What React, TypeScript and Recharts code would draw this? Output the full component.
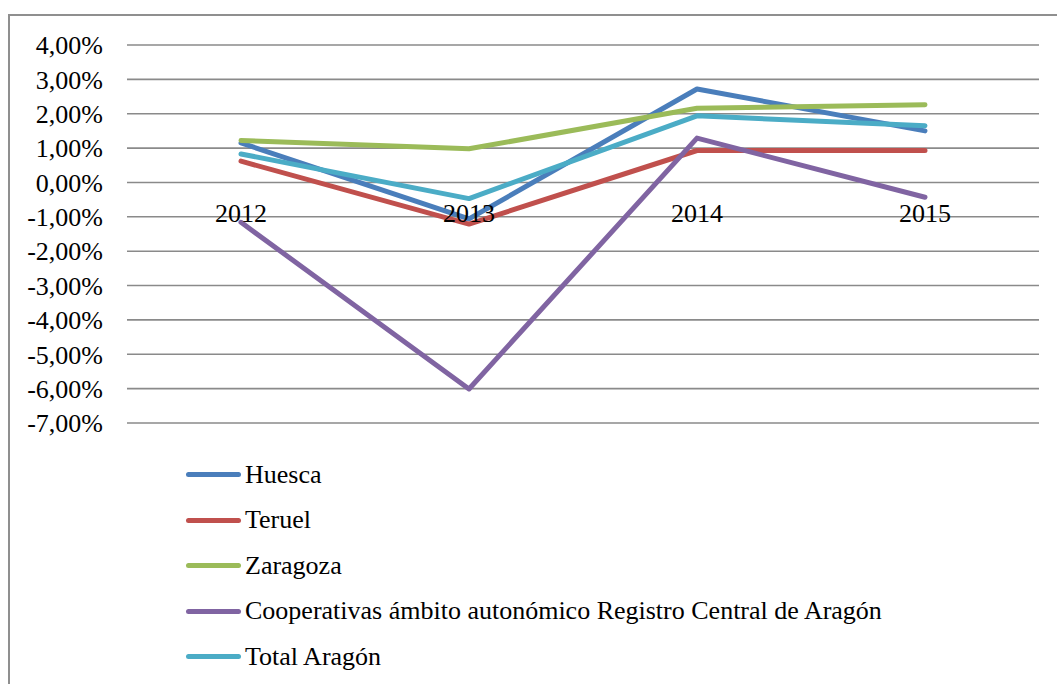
import { CartesianGrid, Legend, Line, LineChart, ReferenceDot, XAxis, YAxis } from 'recharts'

const years = ['2012', '2013', '2014', '2015']
const huesca = [1.15, -1.06, 2.72, 1.5]
const teruel = [0.62, -1.21, 0.93, 0.93]
const zaragoza = [1.22, 0.98, 2.16, 2.26]
const cooperativas = [-1.16, -6.01, 1.29, -0.43]
const totalAragon = [0.83, -0.47, 1.94, 1.65]
const yTicks = [4, 3, 2, 1, 0, -1, -2, -3, -4, -5, -6, -7]

const SERIES = [
  { key: 'huesca', name: 'Huesca', color: '#4a7ebb' },
  { key: 'teruel', name: 'Teruel', color: '#c0504d' },
  { key: 'zaragoza', name: 'Zaragoza', color: '#9bbb59' },
  { key: 'cooperativas', name: 'Cooperativas ámbito autonómico Registro Central de Aragón', color: '#8064a2' },
  { key: 'totalAragon', name: 'Total Aragón', color: '#4bacc6' },
]

const data = years.map((year, i) => ({
  year,
  huesca: huesca[i],
  teruel: teruel[i],
  zaragoza: zaragoza[i],
  cooperativas: cooperativas[i],
  totalAragon: totalAragon[i],
}))

const FONT = "'Liberation Serif', 'Times New Roman', serif"
const FONT_SIZE = 26

const formatPct = (v: number) => v.toFixed(2).replace('.', ',') + '%'

function LegendList() {
  return (
    <div style={{ fontFamily: FONT, fontSize: FONT_SIZE, color: '#000', whiteSpace: 'nowrap' }}>
      {SERIES.map((s) => (
        <div key={s.key} style={{ display: 'flex', alignItems: 'center', height: 45.5 }}>
          <span
            style={{
              display: 'inline-block',
              width: 55,
              height: 5,
              borderRadius: 3,
              background: s.color,
              marginRight: 4,
            }}
          />
          <span>{s.name}</span>
        </div>
      ))}
    </div>
  )
}

export default function App() {
  return (
    <div
      style={{
        position: 'absolute',
        left: 0,
        top: 0,
        width: 1057,
        height: 684,
        overflow: 'hidden',
        background: '#fff',
        fontFamily: FONT,
      }}
    >
      <div
        style={{
          position: 'absolute',
          left: 8,
          top: 14,
          width: 1100,
          height: 800,
          borderTop: '2px solid #8f8f8f',
          borderLeft: '2px solid #8f8f8f',
        }}
      />
      <div style={{ position: 'absolute', left: 0, top: 0 }}>
        <LineChart
          width={1057}
          height={684}
          data={data}
          margin={{ top: 45, right: 18, left: 17, bottom: 261 }}
        >
          <CartesianGrid vertical={false} stroke="#8a8a8a" strokeWidth={1.6} />
          <XAxis dataKey="year" hide padding={{ left: 114, right: 114 }} />
          <YAxis
            width={110}
            domain={[-7, 4]}
            ticks={yTicks}
            interval={0}
            axisLine={false}
            tickLine={false}
            tickSize={0}
            tickMargin={24}
            tickFormatter={formatPct}
            tick={{ fill: '#000', fontSize: FONT_SIZE, fontFamily: FONT }}
          />
          {SERIES.map((s) => (
            <Line
              key={s.key}
              type="linear"
              dataKey={s.key}
              name={s.name}
              stroke={s.color}
              strokeWidth={5}
              strokeLinecap="round"
              strokeLinejoin="round"
              dot={false}
              activeDot={false}
              isAnimationActive={false}
            />
          ))}
          {years.map((year) => (
            <ReferenceDot
              key={year}
              x={year}
              y={0}
              r={0}
              fill="none"
              stroke="none"
              label={{
                value: year,
                position: 'bottom',
                offset: 21,
                fill: '#000',
                fontSize: FONT_SIZE,
                fontFamily: FONT,
              }}
            />
          ))}
          <Legend
            layout="vertical"
            align="center"
            verticalAlign="middle"
            content={() => <LegendList />}
            wrapperStyle={{ top: 452, left: 186, width: 860 }}
          />
        </LineChart>
      </div>
    </div>
  )
}
